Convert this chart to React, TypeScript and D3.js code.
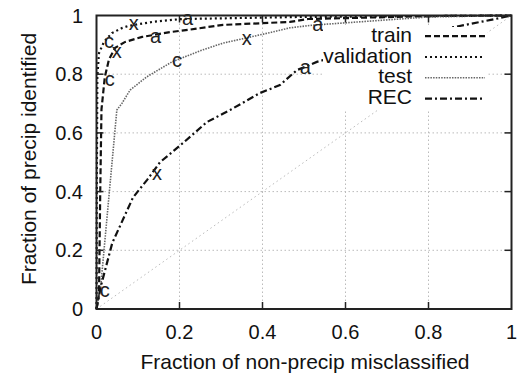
import * as d3 from "d3";
import React from "react";

// curves: [false alarm fraction, hit fraction]
const trainPts: [number, number][] = [
  [0, 0], [0.006, 0.05], [0.009, 0.4], [0.012, 0.68], [0.02, 0.79], [0.03, 0.85],
  [0.045, 0.89], [0.069, 0.91], [0.11, 0.927], [0.18, 0.944], [0.225, 0.952],
  [0.305, 0.968], [0.466, 0.978], [0.51, 0.988], [0.8, 0.998], [1, 1],
];
const validationPts: [number, number][] = [
  [0, 0], [0.001, 0.5], [0.002, 0.79], [0.006, 0.872], [0.018, 0.91], [0.037, 0.94],
  [0.061, 0.957], [0.078, 0.965], [0.134, 0.978], [0.182, 0.985], [0.206, 0.988],
  [0.49, 0.995], [1, 1],
];
const testPts: [number, number][] = [
  [0, 0], [0.01, 0.075], [0.049, 0.678], [0.061, 0.7], [0.081, 0.746], [0.12, 0.79],
  [0.182, 0.842], [0.25, 0.88], [0.305, 0.906], [0.35, 0.92], [0.425, 0.944],
  [0.466, 0.958], [0.52, 0.967], [0.8, 0.995], [1, 1],
];
const recPts: [number, number][] = [
  [0, 0], [0.01, 0.075], [0.038, 0.225], [0.088, 0.38], [0.122, 0.44], [0.153, 0.5],
  [0.208, 0.565], [0.266, 0.637], [0.322, 0.678], [0.394, 0.736], [0.442, 0.763],
  [0.483, 0.814], [0.531, 0.842], [0.6, 0.87], [0.75, 0.93], [0.95, 0.985], [1, 1],
];

// threshold markers (letter, x, y)
const trainMarks: [string, number, number][] = [["c", 0.02, 0.78], ["x", 0.037, 0.875], ["a", 0.129, 0.927]];
const validationMarks: [string, number, number][] = [["c", 0.018, 0.91], ["x", 0.078, 0.968], ["a", 0.206, 0.988]];
const testMarks: [string, number, number][] = [["c", 0.182, 0.842], ["x", 0.35, 0.92], ["a", 0.52, 0.967]];
const recMarks: [string, number, number][] = [["c", 0.008, 0.061], ["x", 0.134, 0.457], ["a", 0.49, 0.821]];

const tickValues = [0, 0.2, 0.4, 0.6, 0.8, 1];
const seriesNames = ["train", "validation", "test", "REC"];

const W = 519;
const H = 376;
const FONT = "'Liberation Sans', Arial, Helvetica, sans-serif";

const styles = [
  { stroke: "#111", width: 2.2, dash: "6,3" },
  { stroke: "#111", width: 2.2, dash: "2,3" },
  { stroke: "#666", width: 1.6, dash: "1.5,1.2" },
  { stroke: "#111", width: 2.2, dash: "7,3,2,3" },
];

export default function App() {
  const x = d3.scaleLinear().domain([0, 1]).range([96.5, 511.5]);
  const y = d3.scaleLinear().domain([0, 1]).range([309, 15.5]);
  const line = d3
    .line<[number, number]>()
    .x((d) => x(d[0]))
    .y((d) => y(d[1]));

  const series = [trainPts, validationPts, testPts, recPts];
  const marks = [trainMarks, validationMarks, testMarks, recMarks];
  const inner = tickValues.slice(1, -1);
  const tickLen = 7;

  return (
    <svg
      width={W}
      height={H}
      style={{ position: "absolute", left: 0, top: 0, background: "#fff" }}
      fontFamily={FONT}
    >
      {/* grid */}
      {inner.map((t) => (
        <g key={"g" + t} stroke="#bbb" strokeWidth={1} strokeDasharray="1.5,2.5">
          <line x1={x(t)} x2={x(t)} y1={y(0)} y2={y(1)} />
          <line x1={x(0)} x2={x(1)} y1={y(t)} y2={y(t)} />
        </g>
      ))}
      {/* diagonal */}
      <line x1={x(0)} y1={y(0)} x2={x(1)} y2={y(1)} stroke="#bbb" strokeWidth={1} strokeDasharray="1.5,3" />

      {series.map((s, i) => (
        <path
          key={"s" + i}
          d={line(s) || ""}
          fill="none"
          stroke={styles[i].stroke}
          strokeWidth={styles[i].width}
          strokeDasharray={styles[i].dash}
        />
      ))}

      {marks.map((m, i) =>
        m.map(([lab, mx, my]) => (
          <text key={"m" + i + lab} x={x(mx)} y={y(my)} dy="0.28em" fontSize={20} fill="#222">
            {lab}
          </text>
        ))
      )}

      {/* key */}
      <rect x={323} y={27} width={164} height={83} fill="#fff" />
      {seriesNames.map((name, i) => {
        const base = 41.7 + i * 20.8;
        return (
          <g key={"k" + name}>
            <text x={412} y={base} textAnchor="end" fontSize={21} fill="#111">
              {name}
            </text>
            <line
              x1={425}
              x2={485}
              y1={base - 5.5}
              y2={base - 5.5}
              stroke={styles[i].stroke}
              strokeWidth={styles[i].width}
              strokeDasharray={styles[i].dash}
            />
          </g>
        );
      })}

      {/* frame and ticks */}
      <rect x={x(0)} y={y(1)} width={x(1) - x(0)} height={y(0) - y(1)} fill="none" stroke="#222" strokeWidth={2} />
      {inner.map((t) => (
        <g key={"t" + t} stroke="#222" strokeWidth={1.5}>
          <line x1={x(t)} x2={x(t)} y1={y(0)} y2={y(0) - tickLen} />
          <line x1={x(t)} x2={x(t)} y1={y(1)} y2={y(1) + tickLen} />
          <line x1={x(0)} x2={x(0) + tickLen} y1={y(t)} y2={y(t)} />
          <line x1={x(1)} x2={x(1) - tickLen} y1={y(t)} y2={y(t)} />
        </g>
      ))}

      {tickValues.map((t) => (
        <text key={"xl" + t} x={x(t)} y={339} textAnchor="middle" fontSize={20} fill="#111">
          {d3.format("~g")(t)}
        </text>
      ))}
      {tickValues.map((t) => (
        <text key={"yl" + t} x={83} y={y(t)} dy="0.35em" textAnchor="end" fontSize={20} fill="#111">
          {d3.format("~g")(t)}
        </text>
      ))}

      <text x={305} y={369} textAnchor="middle" fontSize={21} fill="#111">
        Fraction of non-precip misclassified
      </text>
      <text
        transform={`translate(36,159) rotate(-90)`}
        textAnchor="middle"
        fontSize={21}
        fill="#111"
      >
        Fraction of precip identified
      </text>
    </svg>
  );
}
